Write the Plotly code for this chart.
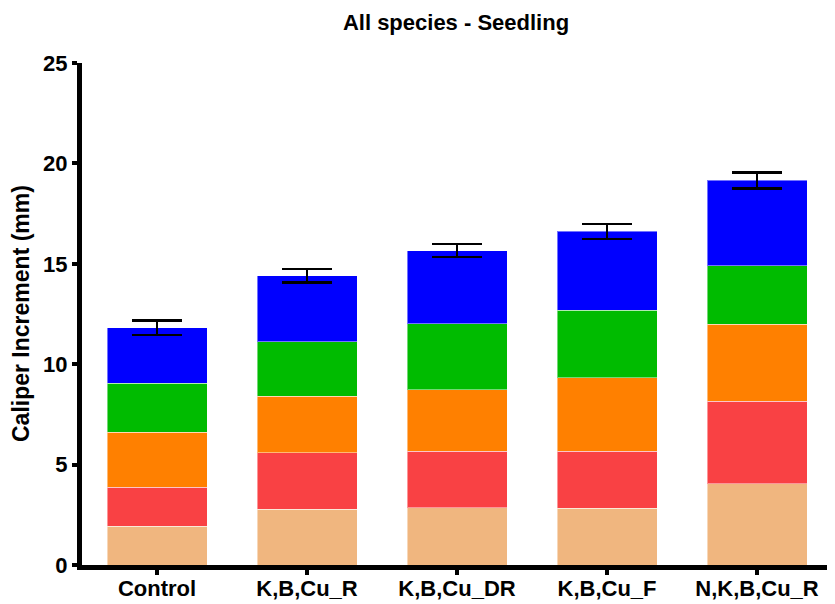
import plotly.graph_objects as go

categories = ["Control", "K,B,Cu_R", "K,B,Cu_DR", "K,B,Cu_F", "N,K,B,Cu_R"]

# stacked segment values (bottom to top)
seg1 = [1.94, 2.78, 2.86, 2.83, 4.05]
seg2 = [1.94, 2.82, 2.80, 2.84, 4.11]
seg3 = [2.72, 2.81, 3.08, 3.66, 3.84]
seg4 = [2.46, 2.72, 3.27, 3.35, 2.91]
seg5 = [2.76, 3.27, 3.65, 3.93, 4.24]
total_err = [0.36, 0.33, 0.33, 0.38, 0.39]

segments = [seg1, seg2, seg3, seg4, seg5]
colors = ["#F0B67F", "#F94144", "#FF8000", "#00BB00", "#0000FF"]

font_family = "Liberation Sans, Arial, sans-serif"

# page body has an 8px margin, so the figure is sized/placed to compensate
W, H = 827, 596

fig = go.Figure()
for i, (vals, col) in enumerate(zip(segments, colors)):
    kw = {}
    if i == len(segments) - 1:
        kw["error_y"] = dict(type="data", array=total_err, symmetric=True,
                             color="black", thickness=2.5, width=25)
    fig.add_trace(go.Bar(
        x=categories, y=vals,
        marker=dict(color=col, line=dict(color="rgba(255,255,255,0.45)", width=1)),
        showlegend=False, **kw))

fig.update_layout(
    width=W, height=H,
    barmode="stack", bargap=1/3,
    plot_bgcolor="white", paper_bgcolor="white",
    margin=dict(l=74, r=0, t=55, b=39),
    title=dict(text="All species - Seedling", x=448 / W, xanchor="center",
               y=1 - 14 / H, yanchor="middle",
               font=dict(family=font_family, size=22, color="black", weight="bold")),
    font=dict(family=font_family, color="black"),
)

fig.update_xaxes(
    range=[-0.5, (W - 74) / 150 - 0.5],
    showline=True, linecolor="black", linewidth=5,
    ticks="outside", ticklen=5, tickwidth=4, tickcolor="black",
    ticklabelstandoff=-5,
    tickfont=dict(family=font_family, size=22, color="black", weight="bold"),
    showgrid=False, zeroline=False, automargin=False,
)
fig.update_yaxes(
    range=[0, 25], tickvals=[0, 5, 10, 15, 20, 25],
    showline=True, linecolor="black", linewidth=5,
    ticks="outside", ticklen=5, tickwidth=4, tickcolor="black",
    tickfont=dict(family=font_family, size=22, color="black", weight="bold"),
    showgrid=False, zeroline=False, automargin=False,
)

fig.add_annotation(
    text="Caliper Increment (mm)", textangle=-90,
    xref="paper", yref="paper", x=0, y=0.5, xanchor="center", yanchor="middle",
    xshift=-61, showarrow=False,
    font=dict(family=font_family, size=23, color="black", weight="bold"),
)

fig.write_html("out.html")
